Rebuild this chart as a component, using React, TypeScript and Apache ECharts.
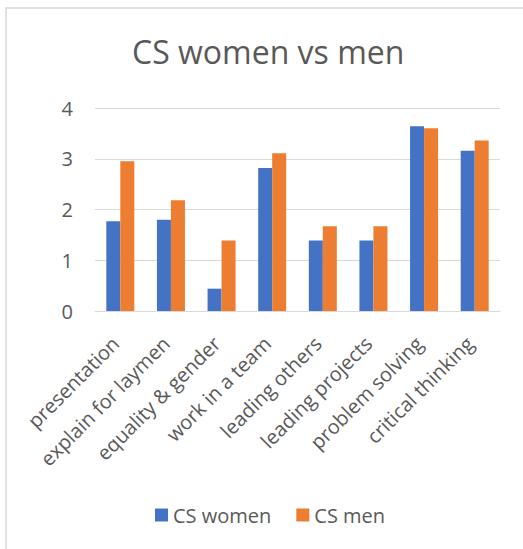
import React, { useEffect, useRef } from "react";
import * as echarts from "echarts";

const categories = [
  "presentation",
  "explain for laymen",
  "equality & gender",
  "work in a team",
  "leading others",
  "leading projects",
  "problem solving",
  "critical thinking",
];
const csWomen = [1.77, 1.8, 0.44, 2.82, 1.39, 1.39, 3.64, 3.16];
const csMen = [2.95, 2.18, 1.39, 3.11, 1.67, 1.67, 3.6, 3.36];
const seriesNames = ["CS women", "CS men"];
const title = "CS women vs men";

const FONT = "Open Sans";
const TEXT = "#595959";
const GRID = "#d9d9d9";

export default function App() {
  const ref = useRef<HTMLDivElement>(null);
  useEffect(() => {
    if (!ref.current) return;
    const chart = echarts.init(ref.current, undefined, { renderer: "svg" });
    chart.setOption({
      animation: false,
      backgroundColor: "#ffffff",
      textStyle: { fontFamily: FONT },
      title: {
        text: title,
        left: 132,
        top: 35,
        padding: 0,
        textStyle: { fontFamily: FONT, fontSize: 32, fontWeight: "normal", color: TEXT },
      },
      graphic: [
        {
          type: "rect",
          shape: { x: 6, y: 8, width: 540, height: 560 },
          style: { fill: "none", stroke: GRID, lineWidth: 1.5 },
          silent: true,
        },
      ],
      legend: {
        left: 155,
        top: 505,
        padding: 0,
        itemWidth: 13,
        itemHeight: 13,
        itemGap: 25,
        icon: "rect",
        textStyle: { fontFamily: FONT, fontSize: 20, color: TEXT, padding: [0, 0, 0, 0] },
        data: seriesNames,
      },
      grid: { left: 95, right: 23, top: 108, bottom: 238 },
      xAxis: {
        type: "category",
        data: categories,
        axisLine: { lineStyle: { color: GRID, width: 1.2 } },
        axisTick: { show: false },
        axisLabel: {
          rotate: 45,
          interval: 0,
          margin: 24,
          padding: [0, 7, 0, 0],
          fontFamily: FONT,
          fontSize: 20,
          color: TEXT,
        },
      },
      yAxis: {
        type: "value",
        min: 0,
        max: 4,
        interval: 1,
        axisLine: { show: false },
        axisTick: { show: false },
        splitLine: { lineStyle: { color: GRID, width: 1.2 } },
        axisLabel: { margin: 22, fontFamily: FONT, fontSize: 20, color: TEXT },
      },
      series: [
        {
          name: seriesNames[0],
          type: "bar",
          data: csWomen,
          barWidth: 14,
          barGap: "0%",
          itemStyle: { color: "#4472C4" },
        },
        {
          name: seriesNames[1],
          type: "bar",
          data: csMen,
          barWidth: 14,
          barGap: "0%",
          itemStyle: { color: "#ED7D31" },
        },
      ],
    });
    return () => chart.dispose();
  }, []);
  return (
    <div
      ref={ref}
      style={{ position: "fixed", left: 0, top: 0, width: 523, height: 549 }}
    />
  );
}
